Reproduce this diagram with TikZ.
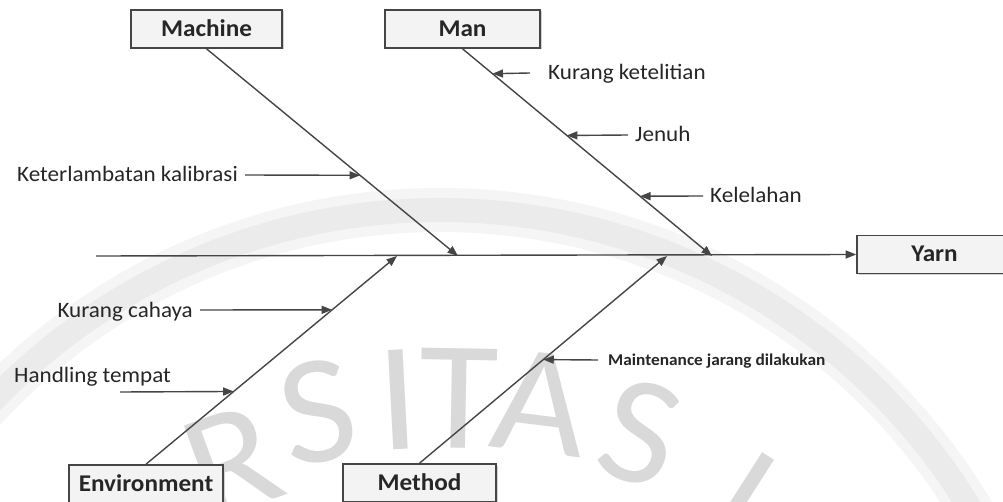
\documentclass[tikz,border=0pt]{standalone}
\usepackage{fontspec}
\setmainfont{Carlito}[FakeStretch=1.05]
\usetikzlibrary{arrows.meta,shadows,calc}

\definecolor{bone}{HTML}{454545}
\definecolor{ink}{HTML}{262626}
\definecolor{wmark}{HTML}{D9D9D9}
\definecolor{wband}{HTML}{EBEBEB}
\definecolor{wsoft}{HTML}{F5F5F5}
\definecolor{boxfill}{HTML}{F3F3F3}

\begin{document}
\begin{tikzpicture}[x=1pt,y=-1pt,
  line/.style={draw=bone, line width=1.4pt},
  arr/.style={line, -{Triangle[length=10.5pt,width=8pt]}},
  catbox/.style={draw=bone, line width=1.6pt, fill=boxfill,
    minimum height=38pt, inner sep=0pt, text height=15pt, text depth=0pt,
    text=ink, font=\fontsize{24}{28}\selectfont\bfseries,
    drop shadow={shadow xshift=1.5pt, shadow yshift=-1.5pt, fill=gray!35, opacity=1}},
  cause/.style={inner xsep=7pt, inner ysep=0pt, text height=14pt, text depth=0pt,
    text=ink, font=\fontsize{22}{26}\selectfont},
  smallcause/.style={cause, font=\fontsize{16.5}{20}\selectfont\bfseries,
    text height=10.5pt},
  wmletter/.style={text=wmark, inner sep=0pt, font=\fontsize{155}{160}\selectfont},
]
\useasboundingbox (0,0) rectangle (1003,502);

% faint seal in the background
\draw[wsoft, line width=44pt] (440,830) circle[radius=620];
\draw[wband, line width=24pt] (440,830) circle[radius=620];
\node[wmletter, rotate=20] (wR) at (232,462) {R};
\node[wmletter, rotate=10] (wS) at (318,412) {S};
\node[wmletter, rotate=3]  (wI) at (398,400) {I};
\node[wmletter, rotate=-1] (wT) at (459,398) {T};
\node[wmletter, rotate=-7] (wA) at (540,403) {A};
\node[wmletter, rotate=-16] (wS2) at (640,433) {S};
\draw[wmark, line width=14pt] (768,456) -- (736,506);

% category boxes
\node[catbox, minimum width=151pt] (machine) at (206.5,29) {Machine};
\node[catbox, minimum width=155pt] (man) at (462.5,29) {Man};
\node[catbox, minimum width=155pt] (yarn) at (934.5,254.5) {Yarn};
\node[catbox, minimum width=154pt] (env) at (146,484) {Environment};
\node[catbox, minimum width=153pt] (method) at (419.5,483) {Method};

% spine and bones
\coordinate (tail) at (96,256);
\coordinate (jmach) at (458,256);
\coordinate (jman) at (712,256);
\coordinate (jenv) at (397,256);
\coordinate (jmeth) at (667,256);

\draw[arr] (tail) -- (yarn.west);
\draw[arr] (machine.south) -- (jmach);
\draw[arr] (man.south) -- (jman);
\draw[arr] (env.north) -- (jenv);
\draw[arr] (method.north) -- (jmeth);

% causes
\node[cause, anchor=west, inner xsep=18pt] (k1) at (530,73) {Kurang ketelitian};
\node[cause, anchor=west] (k2) at (628,135) {Jenuh};
\node[cause, anchor=west] (k3) at (703,196) {Kelelahan};
\node[cause, anchor=east] (c1) at (245,175) {Keterlambatan kalibrasi};
\node[cause, anchor=east] (e1) at (200,310) {Kurang cahaya};
\node[cause, anchor=west] (e2) at (7,375) {Handling tempat};
\coordinate (e2a) at (120,392);
\node[smallcause, anchor=west, inner xsep=10pt] (t1) at (598,360) {Maintenance jarang dilakukan};

\draw[arr] (k1.west) -- ($(man.south)!0.1202!(jman)$);
\draw[arr] (k2.west) -- ($(man.south)!0.4183!(jman)$);
\draw[arr] (k3.west) -- ($(man.south)!0.7115!(jman)$);
\draw[arr] (c1.east) -- ($(machine.south)!0.6106!(jmach)$);
\draw[arr] (e1.east) -- ($(env.north)!0.7416!(jenv)$);
\draw[arr] (e2a) -- ($(env.north)!0.3493!(jenv)$);
\draw[arr] (t1.west) -- ($(method.north)!0.5!(jmeth)$);
\end{tikzpicture}
\end{document}
